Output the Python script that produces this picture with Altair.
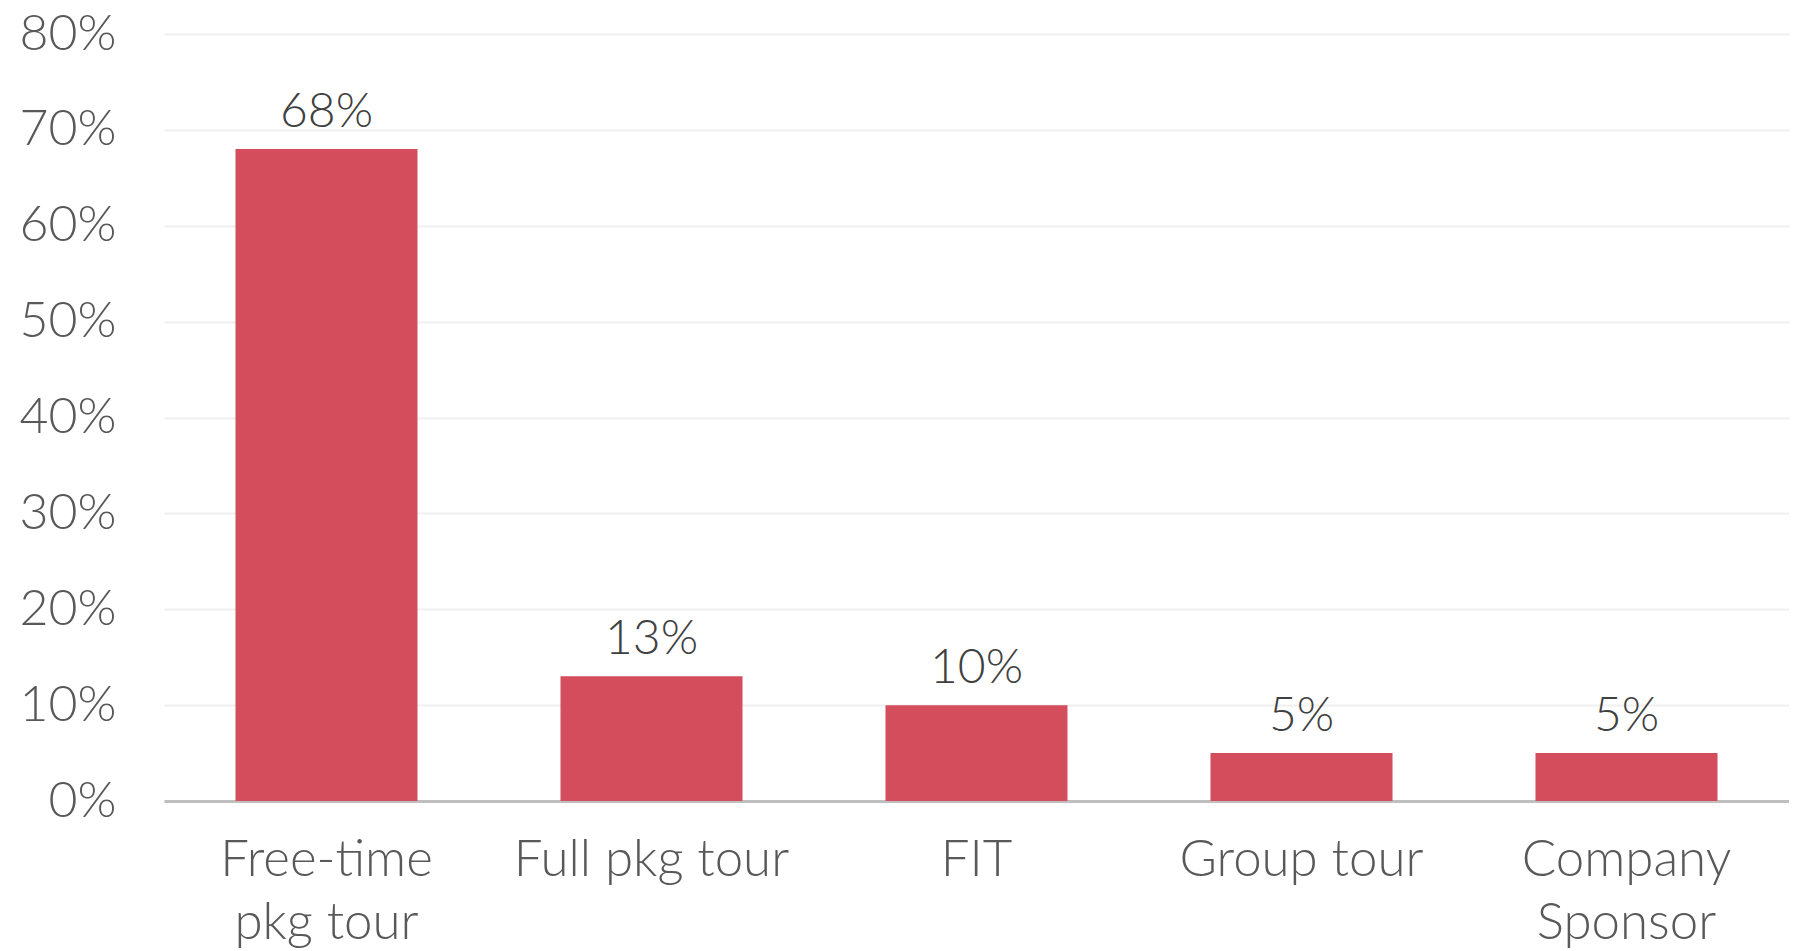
import altair as alt
import pandas as pd

categories = ["Free-time\npkg tour", "Full pkg tour", "FIT", "Group tour", "Company\nSponsor"]
values = [0.68, 0.13, 0.10, 0.05, 0.05]
y_ticks = [0, 0.1, 0.2, 0.3, 0.4, 0.5, 0.6, 0.7, 0.8]

df = pd.DataFrame({"category": categories, "value": values})

FONT = "Lato"

base = alt.Chart(df).encode(
    x=alt.X(
        "category:N",
        sort=categories,
        title=None,
        scale=alt.Scale(paddingInner=0.44, paddingOuter=0.22),
        axis=alt.Axis(
            labelExpr="split(datum.label, '\\n')",
            labelAngle=0,
            labelFontSize=51,
            labelFont=FONT,
            labelFontWeight=300,
            labelColor="#595959",
            labelLineHeight=63,
            labelPadding=34,
            labelLimit=0,
            ticks=False,
            domainColor="#bfbfbf",
            domainWidth=3,
            grid=False,
        ),
    ),
    y=alt.Y(
        "value:Q",
        title=None,
        scale=alt.Scale(domain=[0, 0.8], nice=False),
        axis=alt.Axis(
            values=y_ticks,
            format=".0%",
            labelFontSize=50,
            labelFont=FONT,
            labelFontWeight=300,
            labelColor="#595959",
            labelPadding=48,
            labelLimit=0,
            ticks=False,
            domain=False,
            gridColor="#f0f0f0",
            gridWidth=2,
        ),
    ),
)

bars = base.mark_bar(color="#d44d5c")
labels = base.mark_text(
    baseline="alphabetic", dy=-22, fontSize=48, font=FONT, fontWeight=300, color="#404040"
).encode(text=alt.Text("value:Q", format=".0%"))

chart = (
    (bars + labels)
    .properties(
        width=1625,
        height=767,
        autosize=alt.AutoSizeParams(type="none"),
        padding={"left": 156, "top": 26, "right": 0, "bottom": 147},
    )
    .configure_view(stroke=None)
)

chart.save("out.html", embed_options={"renderer": "svg", "actions": False})
